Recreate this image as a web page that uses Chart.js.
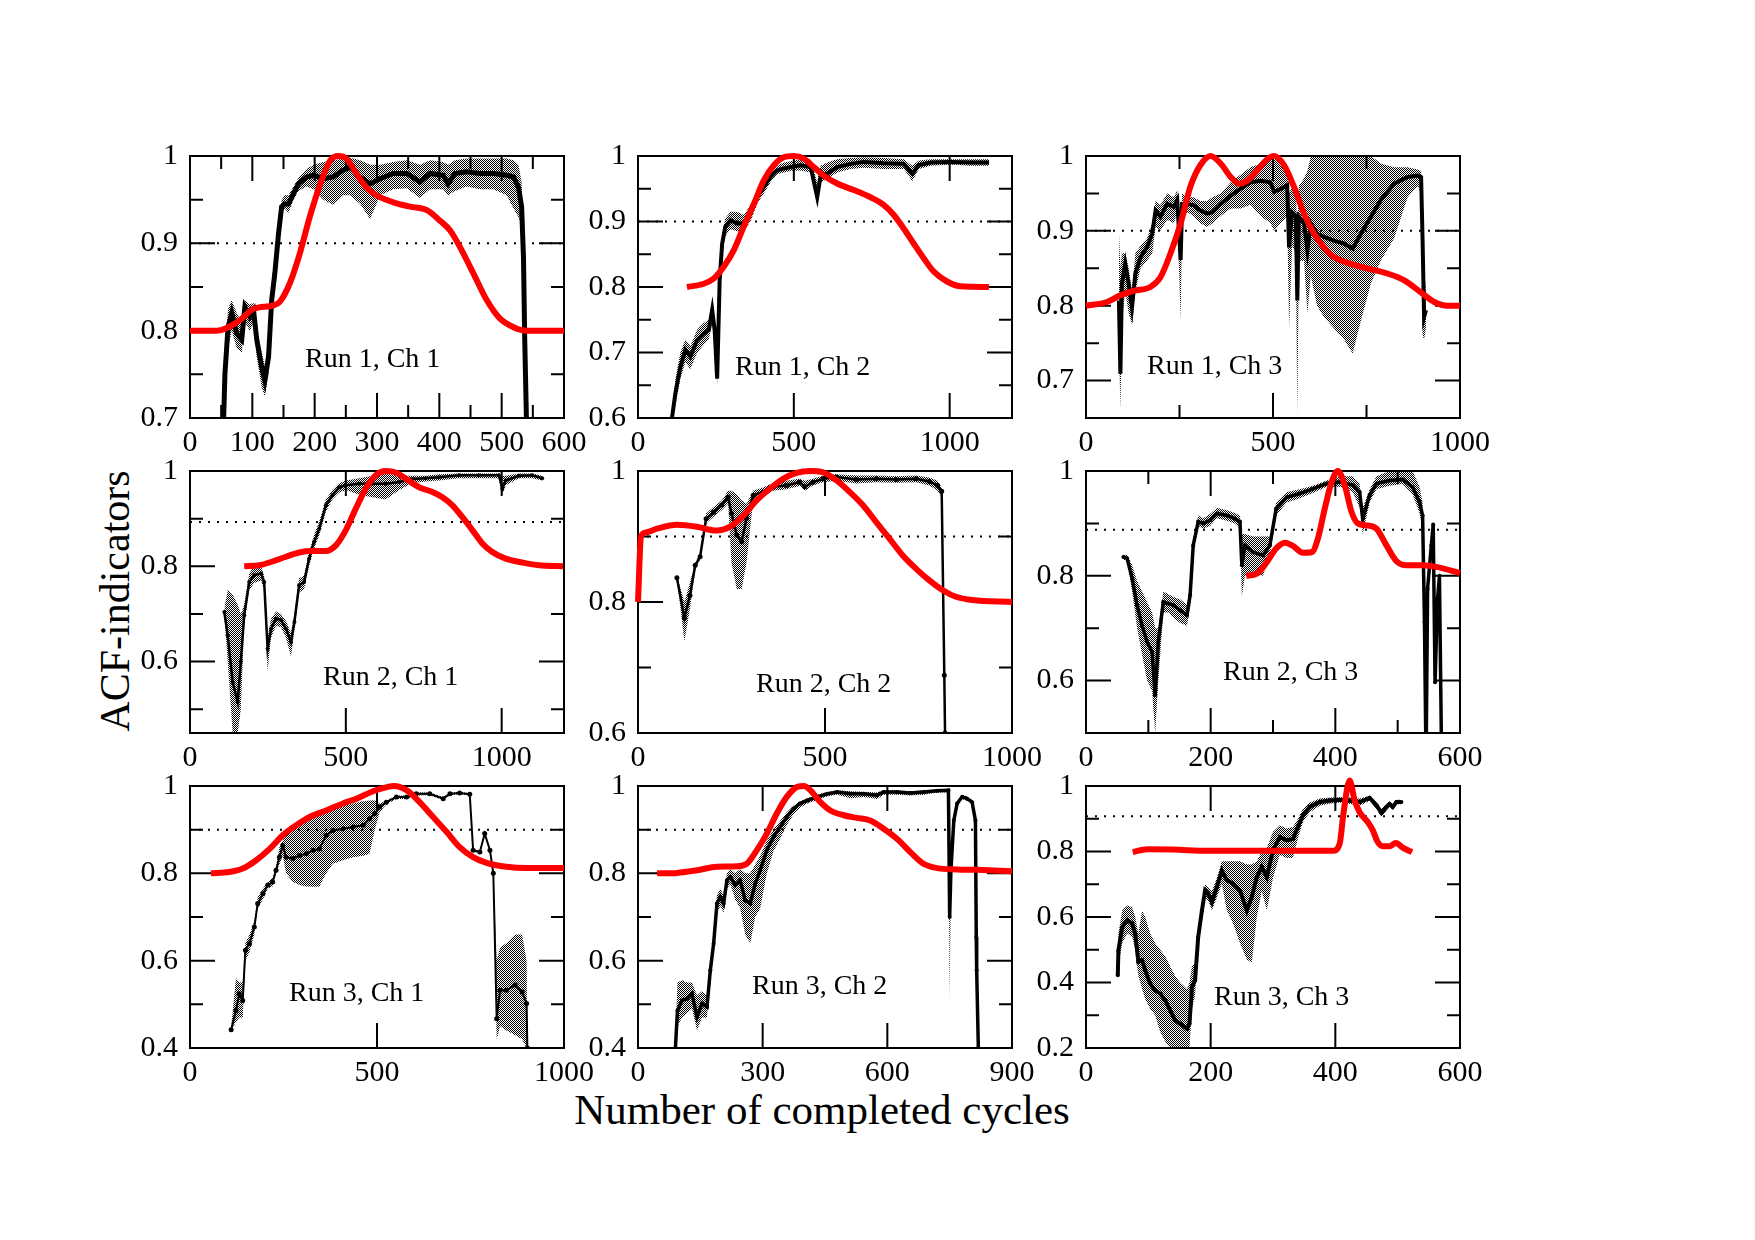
<!DOCTYPE html>
<html>
<head>
<meta charset="utf-8">
<script src="https://cdn.jsdelivr.net/npm/chart.js@4.4.1/dist/chart.umd.min.js"></script>
<style>
  body { margin: 0; background: #fff; width: 1755px; height: 1240px; position: relative; overflow: hidden; font-family: "Liberation Serif", "DejaVu Serif", serif; }
  canvas.panel { position: absolute; }
  .ytitle { position: absolute; left: -85px; top: 580px; width: 400px; height: 42px; line-height: 42px; font-size: 42px; text-align: center; transform: rotate(-90deg); white-space: nowrap; }
  .xtitle { position: absolute; left: 522px; top: 1088px; width: 600px; height: 43px; line-height: 43px; font-size: 43px; text-align: center; white-space: nowrap; }
</style>
</head>
<body>
<div class="ytitle">ACF-indicators</div>
<div class="xtitle">Number of completed cycles</div>
<script>
// ---- data ----
// Run 1, Ch 1
const r1c1X = [50, 56, 61, 67, 75, 83, 88, 96, 102, 107, 115, 120, 126, 131, 136, 142, 147, 152, 158, 166, 174, 187, 198, 214, 230, 246, 257, 273, 289, 305, 326, 348, 369, 385, 406, 414, 425, 444, 465, 487, 508, 519, 527, 532, 535, 537, 540, 545];
const r1c1Acf = [0.6, 0.75, 0.804, 0.82, 0.797, 0.79, 0.827, 0.816, 0.823, 0.79, 0.758, 0.743, 0.77, 0.835, 0.865, 0.911, 0.942, 0.945, 0.945, 0.957, 0.968, 0.976, 0.978, 0.974, 0.976, 0.984, 0.987, 0.976, 0.968, 0.974, 0.98, 0.98, 0.97, 0.98, 0.978, 0.968, 0.98, 0.982, 0.98, 0.98, 0.978, 0.976, 0.964, 0.942, 0.884, 0.79, 0.69, 0.6];
const r1c1Hi = [0.6, 0.77, 0.825, 0.835, 0.82, 0.81, 0.835, 0.83, 0.832, 0.805, 0.775, 0.76, 0.79, 0.845, 0.875, 0.92, 0.95, 0.955, 0.955, 0.965, 0.975, 0.985, 0.99, 0.993, 0.995, 0.997, 0.998, 0.995, 0.99, 0.99, 0.993, 0.995, 0.99, 0.995, 0.993, 0.99, 0.995, 0.997, 0.997, 0.997, 0.997, 0.995, 0.99, 0.97, 0.92, 0.83, 0.72, 0.6];
const r1c1Lo = [0.6, 0.72, 0.78, 0.8, 0.78, 0.775, 0.81, 0.8, 0.81, 0.77, 0.735, 0.725, 0.75, 0.82, 0.85, 0.9, 0.935, 0.94, 0.935, 0.95, 0.96, 0.965, 0.962, 0.95, 0.944, 0.955, 0.955, 0.945, 0.928, 0.955, 0.962, 0.963, 0.952, 0.962, 0.962, 0.955, 0.96, 0.965, 0.962, 0.962, 0.955, 0.94, 0.93, 0.92, 0.85, 0.76, 0.66, 0.6];
const r1c1RedX = [0, 43, 80, 102, 134, 144, 160, 176, 192, 209, 225, 238, 251, 267, 283, 299, 326, 353, 380, 401, 417, 433, 455, 476, 497, 519, 540, 600];
const r1c1Red = [0.80, 0.80, 0.812, 0.825, 0.829, 0.833, 0.854, 0.888, 0.93, 0.968, 0.995, 1.0, 0.997, 0.98, 0.964, 0.955, 0.947, 0.942, 0.938, 0.926, 0.915, 0.896, 0.865, 0.835, 0.814, 0.804, 0.80, 0.80];

// Run 1, Ch 2
const r1c2X = [109, 120, 136, 152, 168, 190, 211, 227, 238, 246, 254, 262, 270, 280, 297, 318, 339, 361, 382, 404, 425, 446, 468, 489, 521, 554, 575, 586, 607, 639, 682, 725, 789, 853, 880, 901, 939, 1003, 1067, 1126];
const r1c2Acf = [0.6, 0.638, 0.678, 0.704, 0.694, 0.719, 0.729, 0.734, 0.765, 0.734, 0.66, 0.81, 0.866, 0.892, 0.902, 0.897, 0.897, 0.912, 0.937, 0.953, 0.968, 0.978, 0.981, 0.983, 0.986, 0.983, 0.937, 0.97, 0.973, 0.983, 0.988, 0.991, 0.989, 0.988, 0.973, 0.986, 0.99, 0.991, 0.99, 0.99];
const r1c2Hi = [0.6, 0.66, 0.7, 0.72, 0.71, 0.735, 0.745, 0.75, 0.78, 0.75, 0.7, 0.83, 0.88, 0.905, 0.915, 0.915, 0.91, 0.925, 0.947, 0.962, 0.975, 0.985, 0.99, 0.992, 0.995, 0.995, 0.96, 0.985, 0.99, 0.995, 0.997, 0.998, 0.997, 0.995, 0.985, 0.993, 0.995, 0.995, 0.995, 0.995];
const r1c2Lo = [0.6, 0.62, 0.66, 0.685, 0.675, 0.7, 0.712, 0.72, 0.745, 0.715, 0.65, 0.79, 0.85, 0.878, 0.888, 0.885, 0.885, 0.9, 0.927, 0.943, 0.96, 0.972, 0.975, 0.977, 0.978, 0.975, 0.925, 0.96, 0.965, 0.975, 0.98, 0.982, 0.98, 0.98, 0.962, 0.98, 0.985, 0.987, 0.985, 0.985];
const r1c2RedX = [157, 211, 243, 275, 307, 339, 372, 404, 436, 468, 500, 532, 564, 596, 639, 693, 746, 789, 821, 853, 885, 918, 950, 993, 1035, 1126];
const r1c2Red = [0.80, 0.805, 0.813, 0.831, 0.856, 0.892, 0.927, 0.963, 0.986, 0.998, 1.0, 0.996, 0.983, 0.97, 0.958, 0.948, 0.937, 0.925, 0.91, 0.889, 0.866, 0.843, 0.823, 0.808, 0.801, 0.80];

// Run 1, Ch 3
const r1c3X = [88, 92, 96, 105, 114, 123, 132, 146, 163, 177, 186, 199, 217, 235, 244, 253, 257, 271, 288, 306, 324, 338, 360, 387, 413, 440, 467, 493, 503, 521, 538, 543, 551, 561, 565, 569, 583, 592, 601, 618, 636, 663, 690, 713, 735, 762, 788, 824, 860, 887, 896, 900, 904, 909];
const r1c3Acf = [0.807, 0.709, 0.829, 0.856, 0.829, 0.798, 0.843, 0.865, 0.878, 0.896, 0.927, 0.919, 0.936, 0.932, 0.941, 0.861, 0.936, 0.936, 0.934, 0.927, 0.923, 0.925, 0.936, 0.947, 0.956, 0.965, 0.967, 0.965, 0.952, 0.956, 0.961, 0.878, 0.925, 0.92, 0.807, 0.919, 0.91, 0.874, 0.91, 0.896, 0.892, 0.887, 0.883, 0.876, 0.896, 0.919, 0.941, 0.963, 0.972, 0.974, 0.972, 0.887, 0.785, 0.794];
const r1c3Hi = [0.9, 0.85, 0.87, 0.87, 0.85, 0.82, 0.87, 0.88, 0.89, 0.91, 0.94, 0.935, 0.95, 0.945, 0.955, 0.9, 0.95, 0.945, 0.945, 0.94, 0.94, 0.945, 0.95, 0.965, 0.975, 0.985, 0.99, 0.995, 1.0, 0.995, 0.985, 0.95, 0.96, 0.955, 0.9, 0.96, 0.97, 0.98, 1.0, 1.02, 1.02, 1.02, 1.02, 1.02, 1.02, 1.0, 0.99, 0.985, 0.985, 0.982, 0.98, 0.95, 0.85, 0.82];
const r1c3Lo = [0.75, 0.66, 0.78, 0.82, 0.79, 0.775, 0.82, 0.85, 0.86, 0.87, 0.905, 0.9, 0.915, 0.91, 0.925, 0.78, 0.915, 0.925, 0.92, 0.91, 0.905, 0.91, 0.92, 0.93, 0.93, 0.935, 0.92, 0.91, 0.9, 0.91, 0.92, 0.77, 0.88, 0.87, 0.655, 0.86, 0.86, 0.79, 0.84, 0.8, 0.785, 0.77, 0.755, 0.736, 0.78, 0.83, 0.86, 0.89, 0.945, 0.96, 0.95, 0.76, 0.755, 0.77];
const r1c3RedX = [0, 56, 92, 128, 172, 199, 226, 253, 279, 306, 333, 360, 387, 409, 431, 458, 485, 503, 529, 556, 583, 610, 636, 663, 708, 752, 806, 851, 895, 931, 967, 1000];
const r1c3Red = [0.80, 0.805, 0.814, 0.82, 0.825, 0.838, 0.87, 0.91, 0.959, 0.988, 1.0, 0.99, 0.972, 0.963, 0.967, 0.981, 0.996, 1.0, 0.988, 0.959, 0.923, 0.896, 0.878, 0.865, 0.856, 0.85, 0.843, 0.834, 0.818, 0.805, 0.80, 0.80];

// Run 2, Ch 1
const r2c1X = [110, 121, 137, 153, 163, 174, 190, 206, 228, 238, 249, 260, 276, 292, 308, 324, 335, 350, 366, 382, 398, 415, 436, 457, 479, 500, 543, 585, 628, 671, 714, 756, 799, 863, 927, 991, 1002, 1013, 1056, 1098, 1130];
const r2c1Acf = [0.704, 0.655, 0.557, 0.515, 0.6, 0.697, 0.767, 0.781, 0.785, 0.767, 0.627, 0.669, 0.69, 0.687, 0.669, 0.641, 0.683, 0.76, 0.767, 0.816, 0.851, 0.879, 0.928, 0.949, 0.966, 0.97, 0.973, 0.973, 0.973, 0.977, 0.983, 0.985, 0.987, 0.991, 0.991, 0.991, 0.963, 0.98, 0.99, 0.991, 0.985];
const r2c1Hi = [0.71, 0.75, 0.74, 0.72, 0.7, 0.72, 0.785, 0.8, 0.8, 0.78, 0.65, 0.69, 0.705, 0.7, 0.685, 0.66, 0.7, 0.775, 0.78, 0.83, 0.865, 0.895, 0.94, 0.96, 0.975, 0.98, 0.985, 0.99, 0.995, 0.99, 0.99, 0.99, 0.993, 0.995, 0.995, 0.995, 0.99, 0.99, 0.995, 0.995, 0.99];
const r2c1Lo = [0.7, 0.6, 0.45, 0.45, 0.5, 0.68, 0.75, 0.765, 0.77, 0.75, 0.58, 0.65, 0.675, 0.672, 0.65, 0.61, 0.665, 0.745, 0.752, 0.8, 0.837, 0.865, 0.915, 0.94, 0.955, 0.96, 0.95, 0.945, 0.94, 0.96, 0.975, 0.978, 0.98, 0.985, 0.985, 0.985, 0.95, 0.97, 0.985, 0.985, 0.98];
const r2c1RedX = [174, 222, 265, 308, 350, 393, 436, 468, 500, 532, 564, 596, 628, 660, 692, 735, 778, 810, 842, 874, 906, 938, 970, 1013, 1066, 1120, 1197];
const r2c1Red = [0.80, 0.802, 0.81, 0.82, 0.829, 0.832, 0.832, 0.844, 0.876, 0.921, 0.963, 0.991, 1.0, 0.997, 0.984, 0.966, 0.956, 0.945, 0.928, 0.903, 0.876, 0.848, 0.83, 0.816, 0.808, 0.802, 0.80];

// Run 2, Ch 2
const r2c2X = [104, 124, 139, 153, 166, 182, 202, 224, 241, 250, 264, 277, 290, 308, 335, 361, 397, 432, 446, 468, 495, 530, 584, 637, 690, 743, 779, 801, 812, 819, 821];
const r2c2Acf = [0.837, 0.776, 0.81, 0.856, 0.869, 0.927, 0.937, 0.948, 0.96, 0.935, 0.902, 0.892, 0.927, 0.963, 0.968, 0.976, 0.978, 0.983, 0.976, 0.983, 0.988, 0.991, 0.987, 0.988, 0.987, 0.988, 0.984, 0.978, 0.969, 0.688, 0.6];
const r2c2Hi = [0.84, 0.8, 0.83, 0.86, 0.875, 0.935, 0.945, 0.955, 0.97, 0.97, 0.965, 0.955, 0.95, 0.97, 0.975, 0.982, 0.985, 0.988, 0.985, 0.988, 0.993, 0.995, 0.993, 0.993, 0.992, 0.993, 0.99, 0.985, 0.975, 0.69, 0.6];
const r2c2Lo = [0.835, 0.74, 0.79, 0.85, 0.865, 0.92, 0.93, 0.94, 0.95, 0.86, 0.82, 0.82, 0.86, 0.955, 0.962, 0.97, 0.972, 0.977, 0.97, 0.978, 0.983, 0.985, 0.981, 0.983, 0.982, 0.983, 0.978, 0.97, 0.96, 0.686, 0.6];
const r2c2RedX = [0, 8, 20, 51, 104, 157, 210, 246, 282, 317, 353, 388, 424, 459, 495, 530, 566, 601, 637, 672, 708, 743, 779, 815, 850, 894, 1000];
const r2c2Red = [0.80, 0.9, 0.906, 0.912, 0.918, 0.915, 0.909, 0.915, 0.932, 0.955, 0.973, 0.988, 0.997, 1.0, 0.998, 0.986, 0.968, 0.948, 0.922, 0.897, 0.871, 0.851, 0.833, 0.818, 0.808, 0.803, 0.80];

// Run 2, Ch 3
const r2c3X = [60, 66, 74, 82, 90, 98, 106, 111, 116, 124, 132, 140, 151, 162, 167, 172, 180, 188, 199, 210, 226, 239, 247, 250, 255, 268, 284, 295, 305, 322, 343, 364, 386, 407, 428, 439, 444, 455, 466, 487, 508, 524, 535, 540, 543, 545, 546, 548, 554, 557, 560, 564, 567, 570];
const r2c3Acf = [0.836, 0.833, 0.795, 0.744, 0.705, 0.674, 0.655, 0.572, 0.674, 0.75, 0.747, 0.744, 0.734, 0.725, 0.763, 0.858, 0.903, 0.9, 0.906, 0.919, 0.915, 0.909, 0.903, 0.82, 0.858, 0.845, 0.839, 0.858, 0.928, 0.95, 0.957, 0.966, 0.976, 0.979, 0.973, 0.96, 0.909, 0.954, 0.976, 0.982, 0.984, 0.969, 0.941, 0.915, 0.712, 0.5, 0.5, 0.775, 0.858, 0.898, 0.597, 0.756, 0.8, 0.5];
const r2c3Hi = [0.84, 0.84, 0.82, 0.79, 0.77, 0.75, 0.73, 0.7, 0.7, 0.77, 0.765, 0.76, 0.755, 0.745, 0.78, 0.87, 0.915, 0.91, 0.918, 0.93, 0.925, 0.92, 0.915, 0.88, 0.88, 0.875, 0.875, 0.875, 0.94, 0.96, 0.965, 0.972, 0.982, 0.99, 0.99, 0.975, 0.93, 0.965, 0.99, 1.0, 1.0, 1.0, 0.97, 0.94, 0.75, 0.5, 0.5, 0.78, 0.86, 0.9, 0.6, 0.76, 0.81, 0.5];
const r2c3Lo = [0.83, 0.83, 0.77, 0.7, 0.65, 0.6, 0.58, 0.5, 0.6, 0.73, 0.73, 0.72, 0.71, 0.705, 0.74, 0.845, 0.895, 0.89, 0.895, 0.91, 0.905, 0.9, 0.89, 0.76, 0.8, 0.805, 0.8, 0.84, 0.915, 0.94, 0.948, 0.958, 0.97, 0.97, 0.96, 0.93, 0.88, 0.94, 0.965, 0.972, 0.975, 0.955, 0.92, 0.89, 0.7, 0.5, 0.5, 0.77, 0.855, 0.895, 0.59, 0.75, 0.79, 0.5];
const r2c3RedX = [257, 274, 290, 305, 319, 332, 348, 362, 372, 383, 394, 404, 415, 426, 436, 452, 466, 482, 498, 514, 540, 562, 600];
const r2c3Red = [0.80, 0.804, 0.826, 0.852, 0.863, 0.857, 0.844, 0.845, 0.871, 0.928, 0.979, 1.0, 0.973, 0.922, 0.9, 0.896, 0.89, 0.858, 0.828, 0.82, 0.82, 0.817, 0.805];

// Run 3, Ch 1
const r3c1X = [110, 123, 132, 141, 148, 159, 172, 181, 195, 208, 221, 230, 239, 248, 257, 275, 293, 311, 329, 346, 364, 382, 409, 436, 463, 480, 494, 507, 525, 552, 579, 605, 641, 677, 695, 721, 748, 757, 775, 788, 802, 811, 820, 829, 846, 869, 888, 900, 902];
const r3c1Acf = [0.442, 0.486, 0.524, 0.509, 0.624, 0.639, 0.677, 0.731, 0.753, 0.773, 0.78, 0.807, 0.837, 0.864, 0.837, 0.834, 0.841, 0.845, 0.853, 0.856, 0.887, 0.898, 0.902, 0.906, 0.91, 0.925, 0.937, 0.952, 0.963, 0.975, 0.975, 0.982, 0.982, 0.971, 0.982, 0.984, 0.981, 0.853, 0.849, 0.891, 0.853, 0.8, 0.467, 0.532, 0.532, 0.544, 0.528, 0.502, 0.4];
const r3c1Hi = [0.45, 0.56, 0.55, 0.55, 0.64, 0.66, 0.69, 0.745, 0.765, 0.78, 0.79, 0.815, 0.86, 0.875, 0.89, 0.9, 0.91, 0.921, 0.93, 0.94, 0.945, 0.95, 0.955, 0.96, 0.965, 0.967, 0.967, 0.96, 0.967, 0.978, 0.978, 0.985, 0.985, 0.975, 0.985, 0.987, 0.984, 0.855, 0.852, 0.895, 0.856, 0.805, 0.6, 0.63, 0.64, 0.66, 0.66, 0.6, 0.4];
const r3c1Lo = [0.44, 0.46, 0.47, 0.47, 0.6, 0.62, 0.66, 0.72, 0.74, 0.765, 0.77, 0.8, 0.82, 0.84, 0.8, 0.78, 0.773, 0.77, 0.769, 0.77, 0.8, 0.822, 0.83, 0.837, 0.84, 0.845, 0.9, 0.94, 0.958, 0.97, 0.97, 0.978, 0.979, 0.968, 0.979, 0.981, 0.978, 0.85, 0.846, 0.888, 0.85, 0.795, 0.42, 0.45, 0.44, 0.43, 0.42, 0.4, 0.4];
const r3c1RedX = [56, 105, 141, 177, 213, 248, 284, 320, 364, 409, 445, 493, 529, 545, 580, 614, 650, 686, 721, 757, 793, 846, 900, 1000];
const r3c1Red = [0.80, 0.803, 0.811, 0.83, 0.856, 0.887, 0.91, 0.929, 0.944, 0.96, 0.971, 0.989, 0.998, 1.0, 0.99, 0.963, 0.929, 0.895, 0.86, 0.837, 0.824, 0.815, 0.812, 0.812];

// Run 3, Ch 2
const r3c2X = [90, 95, 106, 118, 130, 142, 154, 166, 174, 182, 190, 198, 206, 214, 222, 234, 246, 258, 270, 282, 294, 310, 326, 342, 358, 374, 390, 407, 431, 455, 479, 511, 543, 575, 591, 623, 655, 687, 720, 747, 750, 753, 760, 768, 780, 792, 804, 812, 814, 815, 819];
const r3c2Acf = [0.4, 0.486, 0.509, 0.513, 0.524, 0.471, 0.502, 0.494, 0.578, 0.639, 0.731, 0.746, 0.731, 0.784, 0.792, 0.773, 0.784, 0.738, 0.731, 0.776, 0.807, 0.853, 0.883, 0.906, 0.929, 0.948, 0.96, 0.967, 0.975, 0.982, 0.986, 0.982, 0.982, 0.979, 0.986, 0.986, 0.984, 0.986, 0.989, 0.99, 0.7, 0.807, 0.921, 0.96, 0.975, 0.971, 0.963, 0.921, 0.654, 0.578, 0.4];
const r3c2Hi = [0.42, 0.55, 0.555, 0.55, 0.55, 0.52, 0.53, 0.52, 0.6, 0.66, 0.75, 0.765, 0.75, 0.8, 0.81, 0.8, 0.81, 0.8, 0.8, 0.82, 0.84, 0.875, 0.9, 0.92, 0.94, 0.955, 0.965, 0.972, 0.98, 0.986, 0.99, 0.988, 0.987, 0.985, 0.99, 0.99, 0.988, 0.99, 0.992, 0.993, 0.72, 0.82, 0.93, 0.965, 0.98, 0.976, 0.968, 0.93, 0.66, 0.59, 0.4];
const r3c2Lo = [0.4, 0.45, 0.47, 0.48, 0.49, 0.44, 0.47, 0.47, 0.55, 0.62, 0.71, 0.725, 0.71, 0.765, 0.775, 0.74, 0.72, 0.66, 0.64, 0.7, 0.72, 0.8, 0.85, 0.88, 0.91, 0.935, 0.95, 0.96, 0.968, 0.976, 0.98, 0.972, 0.975, 0.97, 0.98, 0.98, 0.978, 0.98, 0.985, 0.985, 0.51, 0.79, 0.91, 0.955, 0.97, 0.966, 0.958, 0.91, 0.645, 0.57, 0.4];
const r3c2RedX = [46, 94, 142, 190, 238, 262, 286, 310, 334, 358, 383, 399, 415, 439, 463, 495, 527, 559, 591, 623, 655, 687, 720, 768, 816, 900];
const r3c2Red = [0.80, 0.801, 0.807, 0.815, 0.816, 0.822, 0.853, 0.891, 0.937, 0.975, 0.998, 1.0, 0.99, 0.963, 0.944, 0.933, 0.927, 0.921, 0.902, 0.879, 0.849, 0.822, 0.812, 0.809, 0.808, 0.805];

// Run 3, Ch 3
const r3c3X = [51, 52, 58, 66, 74, 79, 84, 90, 95, 103, 111, 119, 127, 135, 143, 151, 162, 166, 170, 175, 180, 186, 191, 196, 202, 210, 218, 226, 236, 247, 258, 266, 274, 282, 290, 300, 311, 322, 332, 340, 348, 359, 375, 391, 407, 423, 439, 455, 466, 474, 482, 487, 492, 498, 506];
const r3c3Acf = [0.422, 0.498, 0.569, 0.59, 0.58, 0.549, 0.463, 0.468, 0.437, 0.396, 0.376, 0.366, 0.346, 0.315, 0.284, 0.274, 0.259, 0.274, 0.386, 0.407, 0.539, 0.62, 0.681, 0.671, 0.646, 0.692, 0.742, 0.712, 0.702, 0.681, 0.62, 0.661, 0.722, 0.753, 0.722, 0.804, 0.844, 0.834, 0.839, 0.875, 0.91, 0.936, 0.951, 0.956, 0.958, 0.956, 0.951, 0.964, 0.941, 0.918, 0.936, 0.945, 0.936, 0.951, 0.951];
const r3c3Hi = [0.45, 0.55, 0.62, 0.635, 0.63, 0.6, 0.55, 0.62, 0.6, 0.55, 0.52, 0.5, 0.48, 0.45, 0.42, 0.4, 0.38, 0.4, 0.45, 0.46, 0.56, 0.64, 0.7, 0.69, 0.68, 0.72, 0.77, 0.77, 0.77, 0.77, 0.76, 0.76, 0.77, 0.8, 0.81, 0.86, 0.88, 0.87, 0.875, 0.9, 0.93, 0.95, 0.962, 0.965, 0.966, 0.965, 0.962, 0.97, 0.95, 0.93, 0.945, 0.952, 0.945, 0.958, 0.958];
const r3c3Lo = [0.4, 0.45, 0.52, 0.55, 0.54, 0.5, 0.42, 0.38, 0.35, 0.32, 0.3, 0.25, 0.22, 0.2, 0.2, 0.2, 0.2, 0.2, 0.32, 0.36, 0.52, 0.6, 0.66, 0.65, 0.62, 0.66, 0.7, 0.62, 0.58, 0.52, 0.47, 0.46, 0.6, 0.68, 0.62, 0.72, 0.79, 0.78, 0.78, 0.84, 0.89, 0.92, 0.94, 0.946, 0.95, 0.946, 0.94, 0.955, 0.93, 0.905, 0.925, 0.937, 0.927, 0.944, 0.944];
const r3c3RedX = [75, 98, 140, 194, 247, 300, 354, 396, 407, 413, 423, 431, 439, 452, 460, 468, 476, 487, 497, 508, 523];
const r3c3Red = [0.798, 0.807, 0.806, 0.802, 0.802, 0.802, 0.802, 0.802, 0.824, 0.916, 1.017, 0.956, 0.92, 0.89, 0.865, 0.829, 0.816, 0.816, 0.826, 0.812, 0.798];

// axes, thresholds and titles, one entry per panel (row by row)
const panelTitles = ["Run 1, Ch 1", "Run 1, Ch 2", "Run 1, Ch 3", "Run 2, Ch 1", "Run 2, Ch 2", "Run 2, Ch 3", "Run 3, Ch 1", "Run 3, Ch 2", "Run 3, Ch 3"];
const thresholds = [0.9, 0.9, 0.9, 0.893, 0.9, 0.888, 0.9, 0.9, 0.908];
const xMaxes = [600, 1200, 1000, 1200, 1000, 600, 1000, 900, 600];
const yMins = [0.7, 0.6, 0.65, 0.45, 0.6, 0.5, 0.4, 0.4, 0.2];
const xTickLabels = [
  [0, 100, 200, 300, 400, 500, 600], [0, 500, 1000], [0, 500, 1000],
  [0, 500, 1000], [0, 500, 1000], [0, 200, 400, 600],
  [0, 500, 1000], [0, 300, 600, 900], [0, 200, 400, 600]
];
const yTickLabels = [
  [0.7, 0.8, 0.9, 1], [0.6, 0.7, 0.8, 0.9, 1], [0.7, 0.8, 0.9, 1],
  [0.6, 0.8, 1], [0.6, 0.8, 1], [0.6, 0.8, 1],
  [0.4, 0.6, 0.8, 1], [0.4, 0.6, 0.8, 1], [0.2, 0.4, 0.6, 0.8, 1]
];

const series = [
  [r1c1X, r1c1Acf, r1c1Hi, r1c1Lo, r1c1RedX, r1c1Red],
  [r1c2X, r1c2Acf, r1c2Hi, r1c2Lo, r1c2RedX, r1c2Red],
  [r1c3X, r1c3Acf, r1c3Hi, r1c3Lo, r1c3RedX, r1c3Red],
  [r2c1X, r2c1Acf, r2c1Hi, r2c1Lo, r2c1RedX, r2c1Red],
  [r2c2X, r2c2Acf, r2c2Hi, r2c2Lo, r2c2RedX, r2c2Red],
  [r2c3X, r2c3Acf, r2c3Hi, r2c3Lo, r2c3RedX, r2c3Red],
  [r3c1X, r3c1Acf, r3c1Hi, r3c1Lo, r3c1RedX, r3c1Red],
  [r3c2X, r3c2Acf, r3c2Hi, r3c2Lo, r3c2RedX, r3c2Red],
  [r3c3X, r3c3Acf, r3c3Hi, r3c3Lo, r3c3RedX, r3c3Red]
];

// ---- layout / style ----
const colLeft = [190, 638, 1086];
const rowTop = [156, 471, 786];
const PLOT_W = 374, PLOT_H = 262;
const AXIS_W = 80, AXIS_H = 50, PAD_TOP = 24, PAD_RIGHT = 44;
const MAJOR_LEN = 25, MINOR_LEN = 13;

// inward tick marks: [x major, x minor, y major, y minor]
const tickSteps = [
  [100, 50, 0.1, 0.05], [500, 0, 0.1, 0.05], [500, 250, 0.1, 0.05],
  [500, 0, 0.2, 0.1], [500, 0, 0.2, 0.1], [200, 100, 0.2, 0.1],
  [500, 0, 0.2, 0.1], [300, 0, 0.2, 0.1], [200, 0, 0.2, 0.1]
];
const titleOffset = [[115, 204], [97, 212], [61, 211], [133, 207], [118, 214], [137, 202], [99, 208], [114, 201], [128, 212]];
const blackWidth = [5, 4, 4, 2.5, 2.5, 3.5, 2, 3.5, 4];
const blackPoint = [0, 0, 0, 2, 2.5, 2, 2.5, 2, 2];

Chart.defaults.font.family = '"Liberation Serif", "DejaVu Serif", serif';
Chart.defaults.font.size = 30;
Chart.defaults.color = '#000';

// stipple pattern used for the error band
const stipple = document.createElement('canvas');
stipple.width = 2; stipple.height = 2;
const sctx = stipple.getContext('2d');
sctx.fillStyle = '#000';
sctx.fillRect(0, 0, 1, 1);
sctx.fillRect(1, 1, 1, 1);

function tickValues(min, max, step, skipStep) {
  const out = [];
  if (!step) return out;
  for (let i = Math.ceil(min / step - 1e-6); i * step <= max + 1e-9; i++) {
    const v = +(i * step).toFixed(4);
    if (v <= min + 1e-9 || v >= max - 1e-9) continue;
    if (skipStep && Math.abs(v / skipStep - Math.round(v / skipStep)) < 1e-6) continue;
    out.push(v);
  }
  return out;
}

const framePlugin = {
  id: 'frame',
  beforeDatasetsDraw(chart, args, opts) {
    const { ctx, chartArea: a, scales } = chart;
    const xs = scales.x, ys = scales.y;
    ctx.save();
    ctx.strokeStyle = '#000';
    ctx.lineWidth = 2;
    ctx.strokeRect(a.left, a.top, a.right - a.left, a.bottom - a.top);
    ctx.beginPath();
    const xt = (v, len) => {
      const p = xs.getPixelForValue(v);
      ctx.moveTo(p, a.bottom); ctx.lineTo(p, a.bottom - len);
      ctx.moveTo(p, a.top); ctx.lineTo(p, a.top + len);
    };
    const yt = (v, len) => {
      const p = ys.getPixelForValue(v);
      ctx.moveTo(a.left, p); ctx.lineTo(a.left + len, p);
      ctx.moveTo(a.right, p); ctx.lineTo(a.right - len, p);
    };
    const [xMaj, xMin, yMaj, yMin] = opts.steps;
    tickValues(xs.min, xs.max, xMaj).forEach(v => xt(v, MAJOR_LEN));
    tickValues(xs.min, xs.max, xMin, xMaj).forEach(v => xt(v, MINOR_LEN));
    tickValues(ys.min, ys.max, yMaj).forEach(v => yt(v, MAJOR_LEN));
    tickValues(ys.min, ys.max, yMin, yMaj).forEach(v => yt(v, MINOR_LEN));
    ctx.stroke();
    ctx.restore();
  },
  afterDatasetsDraw(chart, args, opts) {
    const { ctx, chartArea: a } = chart;
    ctx.save();
    ctx.font = '28px "Liberation Serif", serif';
    ctx.fillStyle = '#000';
    ctx.textBaseline = 'middle';
    ctx.fillText(opts.title, a.left + opts.offset[0], a.top + opts.offset[1]);
    ctx.restore();
  }
};

const pts = (xs, ys) => xs.map((x, i) => ({ x: x, y: ys[i] }));

series.forEach((s, i) => {
  const [xv, acf, hi, lo, redX, red] = s;
  const col = i % 3, row = Math.floor(i / 3);
  const canvas = document.createElement('canvas');
  canvas.className = 'panel';
  canvas.width = AXIS_W + PLOT_W + PAD_RIGHT;
  canvas.height = PAD_TOP + PLOT_H + AXIS_H;
  canvas.style.left = (colLeft[col] - AXIS_W) + 'px';
  canvas.style.top = (rowTop[row] - PAD_TOP) + 'px';
  document.body.appendChild(canvas);
  const ctx = canvas.getContext('2d');
  const band = ctx.createPattern(stipple, 'repeat');

  new Chart(ctx, {
    type: 'line',
    data: {
      datasets: [
        {
          label: 'indicator',
          data: pts(redX, red),
          borderColor: '#ff0000',
          borderWidth: 6,
          pointRadius: 0,
          cubicInterpolationMode: 'monotone',
          fill: false,
          clip: false,
          order: 0
        },
        {
          label: 'ACF',
          data: pts(xv, acf),
          borderColor: '#000',
          borderWidth: blackWidth[i],
          pointRadius: blackPoint[i],
          pointBackgroundColor: '#000',
          pointBorderWidth: 0,
          tension: 0,
          fill: false,
          clip: 0,
          order: 1
        },
        {
          label: 'threshold',
          data: [{ x: 0, y: thresholds[i] }, { x: xMaxes[i], y: thresholds[i] }],
          borderColor: '#000',
          borderWidth: 2,
          borderDash: [2, 7],
          pointRadius: 0,
          fill: false,
          order: 2
        },
        {
          label: 'upper',
          data: pts(xv, hi),
          borderColor: 'rgba(0,0,0,0)',
          borderWidth: 0,
          pointRadius: 0,
          backgroundColor: band,
          fill: 4,
          clip: 0,
          order: 3
        },
        {
          label: 'lower',
          data: pts(xv, lo),
          borderColor: 'rgba(0,0,0,0)',
          borderWidth: 0,
          pointRadius: 0,
          fill: false,
          clip: 0,
          order: 4
        }
      ]
    },
    options: {
      responsive: false,
      animation: false,
      devicePixelRatio: 1,
      events: [],
      layout: { padding: { left: 0, top: PAD_TOP, right: PAD_RIGHT, bottom: 0 } },
      plugins: {
        legend: { display: false },
        tooltip: { enabled: false },
        frame: { steps: tickSteps[i], title: panelTitles[i], offset: titleOffset[i] }
      },
      scales: {
        x: {
          type: 'linear',
          min: 0,
          max: xMaxes[i],
          grid: { display: false, drawTicks: false },
          border: { display: false },
          ticks: { padding: 7, maxRotation: 0, autoSkip: false, callback: v => String(v) },
          afterBuildTicks: sc => { sc.ticks = xTickLabels[i].map(v => ({ value: v })); },
          afterFit: sc => { sc.height = AXIS_H; sc.paddingLeft = 0; sc.paddingRight = 0; }
        },
        y: {
          min: yMins[i],
          max: 1,
          grid: { display: false, drawTicks: false },
          border: { display: false },
          ticks: { padding: 12, autoSkip: false, callback: v => String(v) },
          afterBuildTicks: sc => { sc.ticks = yTickLabels[i].map(v => ({ value: v })); },
          afterFit: sc => { sc.width = AXIS_W; sc.paddingTop = 0; sc.paddingBottom = 0; }
        }
      }
    },
    plugins: [framePlugin]
  });
});
</script>
</body>
</html>
